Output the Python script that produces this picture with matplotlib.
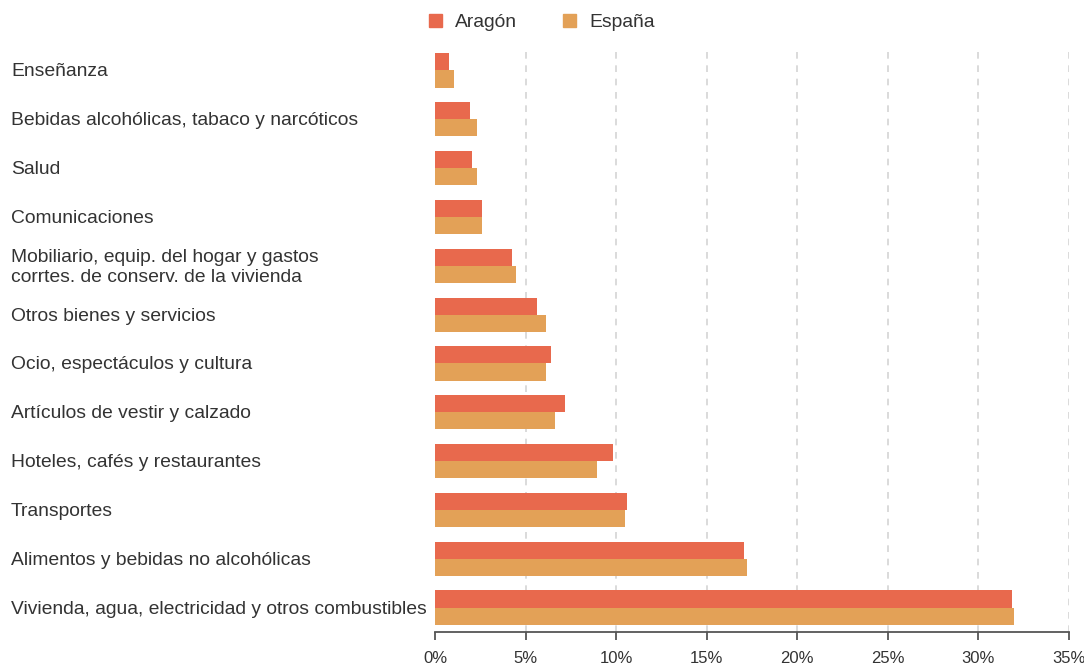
import matplotlib.pyplot as plt
from matplotlib.patches import Patch
import numpy as np

# categories (top to bottom) and shares of spending in %
categories = [
    "Enseñanza",
    "Bebidas alcohólicas, tabaco y narcóticos",
    "Salud",
    "Comunicaciones",
    "Mobiliario, equip. del hogar y gastos\ncorrtes. de conserv. de la vivienda",
    "Otros bienes y servicios",
    "Ocio, espectáculos y cultura",
    "Artículos de vestir y calzado",
    "Hoteles, cafés y restaurantes",
    "Transportes",
    "Alimentos y bebidas no alcohólicas",
    "Vivienda, agua, electricidad y otros combustibles",
]
aragon = [0.77, 1.93, 2.04, 2.6, 4.25, 5.63, 6.4, 7.18, 9.83, 10.6, 17.06, 31.86]
espana = [1.05, 2.32, 2.32, 2.6, 4.47, 6.13, 6.13, 6.63, 8.95, 10.49, 17.23, 31.97]
x_ticks = [0, 5, 10, 15, 20, 25, 30, 35]

col_aragon = "#E8694D"
col_espana = "#E3A157"
text_col = "#333333"

plt.rcParams["font.family"] = ["Liberation Sans", "DejaVu Sans"]

fig = plt.figure(figsize=(10.84, 6.65), dpi=100)
ax = fig.add_axes([435 / 1084, 1 - 632 / 665, 634 / 1084, (632 - 47) / 665])

y = np.arange(len(categories))
h = 0.35
ax.barh(y - h / 2, aragon, height=h, color=col_aragon, zorder=3)
ax.barh(y + h / 2, espana, height=h, color=col_espana, zorder=3)

ax.set_xlim(0, 35)
ax.set_ylim(len(categories) - 0.5, -0.48)

# dashed vertical grid (not at zero)
for t in x_ticks[1:]:
    ax.axvline(t, color="#d4d4d4", linestyle=(0, (4, 4)), linewidth=1.2, zorder=1)

ax.set_xticks(x_ticks)
ax.set_xticklabels([f"{t}%" for t in x_ticks], fontsize=12, color=text_col)
ax.tick_params(axis="x", length=6, width=1.3, color="#555555", pad=8)
ax.set_yticks([])

for s in ["top", "right", "left"]:
    ax.spines[s].set_visible(False)
ax.spines["bottom"].set_color("#555555")
ax.spines["bottom"].set_linewidth(1.3)

# category labels, left aligned at the figure edge
for i, lab in enumerate(categories):
    ax.text(-424 / 634, i + 0.03, lab, transform=ax.get_yaxis_transform(),
            ha="left", va="center", fontsize=13.9, color=text_col,
            linespacing=1.2)

handles = [Patch(color=col_aragon), Patch(color=col_espana)]
fig.legend(handles, ["Aragón", "España"], loc="upper center",
           bbox_to_anchor=(0.5, 1.005), ncol=2, frameon=False,
           fontsize=13.9, handlelength=0.65, handleheight=0.65,
           columnspacing=2.4, handletextpad=0.7, labelcolor=text_col)

fig.savefig("out.png", dpi=100)
